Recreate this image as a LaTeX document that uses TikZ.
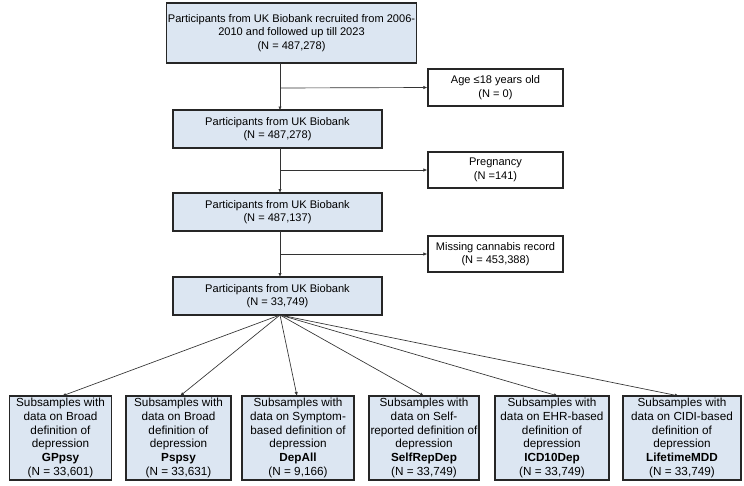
\documentclass[tikz,border=0pt]{standalone}
\usepackage{fontspec}
\setmainfont{Liberation Sans}
\usetikzlibrary{arrows.meta}
\definecolor{boxblue}{HTML}{DCE6F2}
\begin{document}
\begin{tikzpicture}[x=0.75pt,y=-0.75pt,
  bx/.style={draw=black!85,line width=0.9pt,inner sep=1pt,align=center,font=\fontsize{8.3}{10.2}\selectfont},
  blue/.style={bx,fill=boxblue},
  sub/.style={blue,font=\fontsize{8.8}{10.4}\selectfont,minimum height=84*0.75pt},
  wht/.style={bx,fill=white},
  arr/.style={-{Latex[length=3pt,width=2.5pt]},line width=0.5pt,black!80}]
\useasboundingbox (0,0) rectangle (744,486);
\node[blue,minimum width=237*0.75pt,minimum height=60*0.75pt] (a) at (291.5,33) {Participants from UK Biobank recruited from 2006-\\2010 and followed up till 2023\\(N = 487,278)};
\node[wht,minimum width=135*0.75pt,minimum height=37*0.75pt] (e1) at (495.5,87.5) {Age ≤18 years old\\(N = 0)};
\node[blue,minimum width=209*0.75pt,minimum height=38*0.75pt] (b) at (277.5,129) {Participants from UK Biobank\\(N = 487,278)};
\node[wht,minimum width=135*0.75pt,minimum height=36*0.75pt] (e2) at (495.5,170) {Pregnancy\\(N =141)};
\node[blue,minimum width=209*0.75pt,minimum height=38*0.75pt] (c) at (277.5,212) {Participants from UK Biobank\\(N = 487,137)};
\node[wht,minimum width=135*0.75pt,minimum height=36*0.75pt] (e3) at (495.5,254) {Missing cannabis record\\(N = 453,388)};
\node[blue,minimum width=209*0.75pt,minimum height=38*0.75pt] (d) at (277.5,296) {Participants from UK Biobank\\(N = 33,749)};
\coordinate (t1) at (280,88);
\coordinate (t2) at (280,170);
\coordinate (t3) at (280,254);
\draw[arr] (280,63) -- (280,110.5);
\draw[arr] (t1) -- (e1.west);
\draw[arr] (280,148) -- (280,193);
\draw[arr] (t2) -- (e2.west);
\draw[arr] (280,231) -- (280,277);
\draw[arr] (t3) -- (e3.west);
\coordinate (s) at (280,315);
\foreach \n/\tx in {1/62,2/180,3/297,4/424,5/558,6/679}{
  \coordinate (p\n) at (\tx,396);
  \draw[arr] (s) -- (p\n);
}
\node[sub,minimum width=102*0.75pt] (f1) at (60.5,438) {Subsamples with\\data on Broad\\definition of\\depression\\\textbf{GPpsy}\\(N = 33,601)};
\node[sub,minimum width=105*0.75pt] (f2) at (178.5,438) {Subsamples with\\data on Broad\\definition of\\depression\\\textbf{Pspsy}\\(N = 33,631)};
\node[sub,minimum width=112*0.75pt] (f3) at (298,438) {Subsamples with\\data on Symptom-\\based definition of\\depression\\\textbf{DepAll}\\(N = 9,166)};
\node[sub,minimum width=110*0.75pt] (f4) at (424,438) {Subsamples with\\data on Self-\\reported definition of\\depression\\\textbf{SelfRepDep}\\(N = 33,749)};
\node[sub,minimum width=114*0.75pt] (f5) at (552,438) {Subsamples with\\data on EHR-based\\definition of\\depression\\\textbf{ICD10Dep}\\(N = 33,749)};
\node[sub,minimum width=118*0.75pt] (f6) at (682,438) {Subsamples with\\data on CIDI-based\\definition of\\depression\\\textbf{LifetimeMDD}\\(N = 33,749)};
\end{tikzpicture}
\end{document}
